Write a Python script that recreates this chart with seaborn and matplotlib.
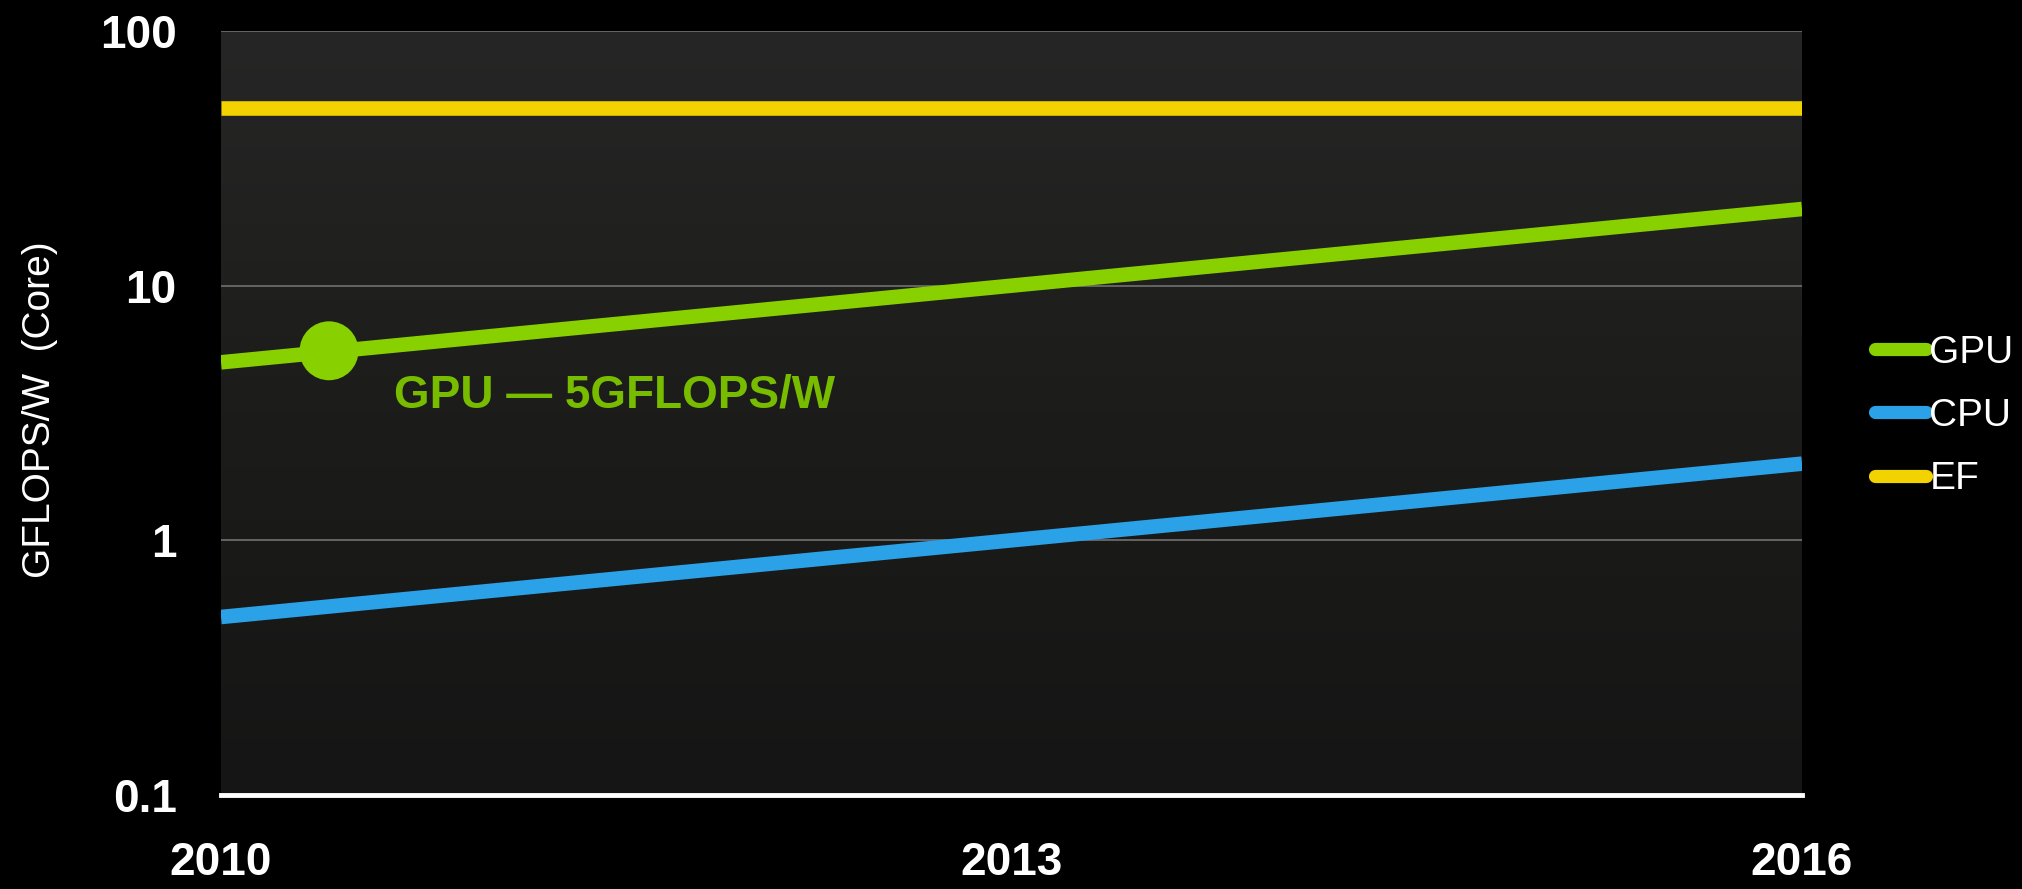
import numpy as np
import pandas as pd
import matplotlib
matplotlib.use("Agg")
import matplotlib.pyplot as plt
from matplotlib.lines import Line2D
from matplotlib.colors import LinearSegmentedColormap
import seaborn as sns

# ---- data ----
years = [2010, 2016]
gpu = [5, 20]
cpu = [0.5, 2]
ef = [50, 50]
series_names = ["GPU", "CPU", "EF"]
series_colors = ["#88D000", "#2BA1E8", "#F2D300"]
x_ticks = [2010, 2013, 2016]
y_ticks = [0.1, 1, 10, 100]
y_tick_labels = ["0.1", "1", "10", "100"]
marker_x = [2010.41]
marker_y = [5.55]
annotation = "GPU — 5GFLOPS/W"

df = pd.DataFrame({
    "year": years * 3,
    "value": gpu + cpu + ef,
    "series": [s for s in series_names for _ in years],
})

sns.set_theme(style="dark")
plt.rcParams["font.family"] = ["Liberation Sans", "DejaVu Sans"]

fig = plt.figure(figsize=(20.22, 8.89), dpi=100, facecolor="black")
ax = fig.add_axes([221 / 2022, 1 - 795 / 889, (1802 - 221) / 2022, (795 - 31) / 889])
ax.set_facecolor("#202020")

# subtle vertical gradient in plot area
grad = np.linspace(0, 1, 256).reshape(-1, 1)
cmap = LinearSegmentedColormap.from_list("bg", ["#151515", "#1c1c1a", "#262626"])
ax.imshow(grad, extent=[0, 1, 0, 1], transform=ax.transAxes, cmap=cmap,
          aspect="auto", zorder=0, origin="lower")

palette = dict(zip(series_names, series_colors))
sns.lineplot(data=df, x="year", y="value", hue="series", palette=palette,
             linewidth=10.5, legend=False, ax=ax, zorder=3, solid_capstyle="butt")

sns.scatterplot(x=marker_x, y=marker_y, color=series_colors[0], s=1800,
                edgecolor="none", ax=ax, zorder=4)

ax.set_yscale("log")
ax.set_ylim(0.1, 100)
ax.set_xlim(2010, 2016)
ax.set_yticks(y_ticks)
ax.set_yticklabels(y_tick_labels)
ax.set_xticks(x_ticks)
ax.set_xticklabels([str(t) for t in x_ticks])
ax.yaxis.set_minor_locator(matplotlib.ticker.NullLocator())

ax.tick_params(axis="y", length=0, pad=32, labelsize=33, labelcolor="white")
ax.tick_params(axis="x", length=0, pad=33, labelsize=33, labelcolor="white")
for lab in ax.get_xticklabels() + ax.get_yticklabels():
    lab.set_fontweight("bold")

ax.grid(False)
for v in [1, 10, 100]:
    ax.axhline(v, color="#6a6a6a", linewidth=1.3, zorder=1)

for s in ["top", "right", "left"]:
    ax.spines[s].set_visible(False)
ax.spines["bottom"].set_color("white")
ax.spines["bottom"].set_linewidth(3.5)
ax.spines["bottom"].set_zorder(5)

ax.set_xlabel("")
ax.set_ylabel("GFLOPS/W  (Core)", color="white", fontsize=28)
ax.yaxis.set_label_coords((58 - 221) / 1581, 0.504)

ax.text(2010.657, 3.72, annotation, color="#78BC00", fontsize=33, fontweight="bold",
        ha="left", va="center", zorder=5)

handles = [Line2D([0], [0], color=c, linewidth=9.5, solid_capstyle="round")
           for c in series_colors]
leg = fig.legend(handles, series_names, loc="center left",
                 bbox_to_anchor=(1875 / 2022, 1 - 416 / 889),
                 frameon=False, fontsize=28, handlelength=1.3, handletextpad=0.1,
                 labelspacing=0.7, borderpad=0, borderaxespad=0)
for t in leg.get_texts():
    t.set_color("white")

fig.savefig("out.png", dpi=100, facecolor="black")
